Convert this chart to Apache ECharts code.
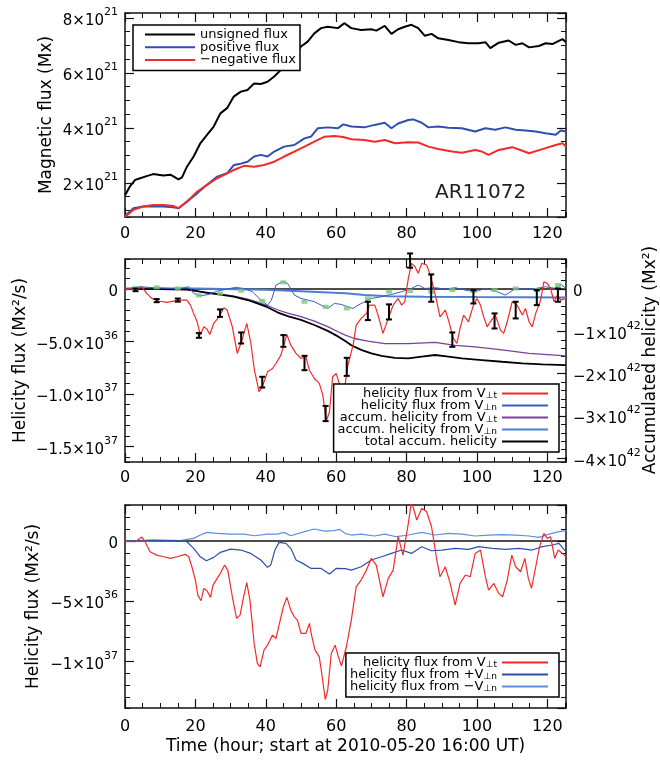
<!DOCTYPE html>
<html>
<head>
<meta charset="utf-8">
<script src="https://cdn.jsdelivr.net/npm/echarts@6/dist/echarts.min.js"></script>
<style>html,body{margin:0;padding:0;background:#fff;}#c{width:660px;height:760px;}</style>
</head>
<body>
<div id="c"></div>
<script>
// ---------- Panel 1: magnetic flux (units of 1e21 Mx) ----------
const unsignedT = [0,0.3,1.4,2.9,4.3,5.7,8,10.9,12.9,15.2,16.2,17.6,19.5,21.4,23.3,25.2,27.1,29,30.9,32.9,34.8,36.7,38.6,40.5,42.4,44.3,46.2,48.1,50,51.9,53.8,55.7,57.6,60.5,62.3,64.3,67.1,70,71.4,73.8,75.7,77.6,79.5,81.4,83.3,85.2,87.1,89,91.9,94.8,97.6,100.5,102.4,103.8,106.2,109,111,112.9,114.8,117.6,119.5,121.4,124.3,125.3];
const unsignedFlux = [1.55,1.6,1.87,2.11,2.17,2.23,2.32,2.27,2.3,2.13,2.2,2.59,2.96,3.44,3.75,4.05,4.53,4.72,5.14,5.32,5.38,5.62,5.6,5.68,5.87,6.11,6.35,6.6,6.96,7.14,7.44,7.63,7.68,7.63,7.81,7.63,7.56,7.59,7.54,7.71,7.42,7.59,7.68,7.75,7.63,7.35,7.42,7.26,7.2,7.12,7.08,7.08,7.12,6.9,7.1,7.18,7.02,7.08,6.93,6.98,7.08,7.05,7.23,7.12];
const positiveT = [0,0.3,2.4,5.2,8,10.9,13.7,15.2,17.6,20.5,23.3,26.2,29,30.9,32.9,34.8,36.7,38.6,40.5,42.4,45.2,48.1,51,52.9,54.8,57.6,60.5,62,64.3,68,70.9,73.8,75.7,77.6,80.5,81.9,84.3,86.2,89,91.9,95.7,99.5,102.4,105.2,108.1,111,113.8,116.7,119.5,122.4,123.8,125.3];
const positiveFlux = [0.8,0.84,1.08,1.14,1.15,1.14,1.11,1.08,1.32,1.62,1.93,2.23,2.35,2.65,2.7,2.77,2.96,3.02,2.96,3.14,3.32,3.38,3.62,3.69,3.99,4.02,3.99,4.13,4.05,4.02,4.11,4.19,3.99,4.16,4.29,4.31,4.19,4.02,4.05,4.01,3.99,3.87,3.99,3.93,4.02,3.93,3.91,3.87,3.81,3.75,3.91,3.87];
const negativeT = [0,0.3,2.4,5.2,8,10.9,13.7,15.2,17.6,20.5,23.3,26.2,29,30.9,33.8,36.7,39.5,42.4,45.2,48.1,51,53.8,56.7,59.5,62,64.3,68,70.9,73.8,76.7,80.5,83.3,86.2,89,92.9,95.7,99.5,101.4,103.3,106.2,110,112.9,114.8,118.6,122.4,124.3,125.3];
const negativeFlux = [0.76,0.77,1.02,1.14,1.2,1.2,1.16,1.08,1.32,1.68,1.93,2.17,2.35,2.47,2.62,2.59,2.65,2.77,2.96,3.14,3.32,3.5,3.68,3.71,3.67,3.59,3.56,3.5,3.56,3.44,3.48,3.47,3.32,3.23,3.14,3.1,3.2,3.14,3.02,3.2,3.3,3.17,3.08,3.23,3.38,3.44,3.32];

// ---------- Panel 2: helicity flux (1e36 Mx^2/s) and accumulated helicity (1e42 Mx^2) ----------
const p2VtT = [0,3.3,4.8,6.2,7.6,9.5,11.9,15.2,17.6,18.6,19.5,20.5,21.4,22.4,23.3,24.1,25.2,26.7,28.1,29,30.5,31.9,33.1,34.6,35.7,36.7,38.1,39,40.5,41.9,42.9,44.3,46,47.1,48.6,50,51.4,52.4,53.8,55.2,56.2,57.2,58.1,59,60,61.4,62.2,63.3,64.8,65.7,67.1,68.6,69.5,71,71.9,73.3,74.8,76.2,77.6,78.6,79.5,80.5,81.4,82.4,83.3,84.3,85.7,86.7,87.6,88.6,89.5,91,91.9,93.3,94.3,95.2,96.2,97.6,99,100,101,101.9,102.9,103.8,105.2,106.7,107.6,108.6,110,111.4,112.9,113.8,114.8,115.7,116.7,118.1,119,120,120.9,121.9,122.9,123.8,125.3];
const p2Vt = [0,0,0.22,-0.41,-0.89,-1.14,-1.27,-1.05,-1.05,-1.53,-2.32,-3.12,-4.39,-3.6,-3.82,-4.33,-3.28,-2.65,-1.78,-2.0,-3.6,-6.14,-5.03,-3.28,-5.03,-7.58,-9.8,-9.33,-7.9,-7.58,-7.1,-6.3,-4.33,-5.35,-6.14,-6.62,-6.46,-7.74,-8.53,-9.0,-10.1,-12.6,-11.7,-8.37,-8.05,-9.6,-9.9,-7.3,-5.35,-3.44,-2.8,-2.32,-1.53,-1.53,-2.48,-4.23,-2.8,-1.53,-0.89,-1.53,-1.2,1.02,2.45,2.13,1.5,2.45,2.3,1.34,0.22,-1.21,-2.65,-2.0,-2.96,-4.71,-5.19,-3.76,-2.48,-3.12,-1.53,-0.89,-1.53,-2.65,-3.6,-3.12,-2.48,-3.92,-4.23,-3.12,-1.21,-1.53,-2.48,-1.85,-3.12,-3.6,-2.32,-1.05,0.7,0.54,0.06,-1.21,-0.57,-1.05,-0.89];
const p2VnT = [0,4.3,8.1,12.9,15.7,18.1,19.5,21.4,23.8,26.2,29,31.4,33.8,36.2,38.6,40.5,41.6,42.9,44.8,46.2,48.1,50,51.9,53.8,55.7,57.6,59.5,61.4,63.3,64.8,66.2,68.1,70,72.9,75.7,78.6,81.4,83.3,85.2,88.1,91,93.8,96.7,99.5,102.4,105.2,108.1,111,113.8,116.7,119.5,122.4,123.8,125.3];
const p2Vn = [0,0.22,0.13,0.06,0.06,0.22,-0.41,-0.64,-0.51,-0.19,0,0.16,0.06,-0.25,-1.05,-1.53,-1.05,0.38,0.7,0.54,-0.57,-0.89,-1.05,-1.21,-1.53,-1.85,-1.37,-1.46,-1.69,-1.85,-1.53,-1.21,-0.89,-0.73,-0.51,-0.25,0.06,0.38,0.06,0.13,0,0.13,-0.1,-0.25,0.06,-0.19,-0.57,0.06,0,0.06,0.22,0.06,0.45,0.06];
const greenT = [3,9,15,21,27,33,39,45,51,57,63,69,75,81,87,93,99,105,111,117,123];
const greenV = [0.1,0.16,0.06,-0.6,-0.41,-0.16,-1.11,0.64,-1.21,-1.69,-1.85,-0.89,-0.25,-0.19,-0.25,-0.1,-0.19,-0.1,0.06,-0.1,0.38];
const errT = [3,9,15,21,27,33,39,45,51,57,63,69,75,81,87,93,99,105,111,117,123];
const errLow = [-0.2,-1.25,-1.2,-4.65,-2.65,-5.19,-9.39,-5.51,-7.74,-12.6,-8.28,-2.96,-2.9,2.04,-1.21,-5.51,-1.37,-3.76,-2.8,-1.53,-1.21];
const errHigh = [0.05,-0.95,-0.9,-4.2,-1.94,-4.14,-8.37,-4.39,-6.37,-11.15,-6.56,-1.21,-1.46,3.4,1.4,-4.14,-0.1,-2.32,-1.21,-0.1,0.06];
const accTotalT = [0,10,17.6,20.5,23.3,27.1,30.9,34.8,37.6,40.5,43.3,46.2,50,53.8,57.6,60.5,62.6,64.3,67.1,70,72.9,76.7,80.5,84.3,88.1,91.9,95.7,101.4,107.1,112.9,118.6,125.3];
const accTotal = [0,0,-0.01,-0.05,-0.09,-0.13,-0.18,-0.26,-0.34,-0.43,-0.55,-0.64,-0.73,-0.85,-0.99,-1.12,-1.23,-1.33,-1.44,-1.52,-1.58,-1.63,-1.64,-1.6,-1.56,-1.6,-1.64,-1.68,-1.72,-1.76,-1.78,-1.8];
const accVtT = [0,10,17.6,20.5,23.3,27.1,30.9,34.8,37.6,40.5,43.3,46.2,50,53.8,57.6,60.5,62.6,65.2,69,73.8,80.5,88.1,93.8,99.5,107.1,114.8,125.3];
const accVt = [0,-0.01,-0.02,-0.05,-0.08,-0.12,-0.17,-0.24,-0.31,-0.39,-0.49,-0.57,-0.65,-0.76,-0.89,-1.01,-1.09,-1.17,-1.23,-1.29,-1.29,-1.26,-1.33,-1.37,-1.44,-1.52,-1.58];
const accVnT = [0,20,40,50,57.6,62.6,68,75,85,100,125.3];
const accVn = [0.01,0.01,-0.02,-0.05,-0.08,-0.1,-0.14,-0.17,-0.18,-0.19,-0.2];

// ---------- Panel 3: helicity flux (1e36 Mx^2/s) ----------
const p3VtT = [0,2.9,3.3,4.8,5.7,7.1,9,11,12.9,14.8,17.1,18.1,19,20,20.7,21.6,22.4,23.3,24.3,25,26.2,27.1,28.3,29.2,30.5,31.7,32.7,33.6,34.6,35.5,36.7,37.6,38.4,39.5,40.5,41.9,42.9,44.1,45,46,47.1,48.1,49,50,51.4,52.4,53,54,55.2,55.9,56.9,57.6,58.6,59.7,60.5,61.5,62.9,64.3,65.7,67.1,68.6,70,71.4,73.3,74.8,76.2,77.6,79,80.5,81.4,82.9,84.3,85.7,87.1,88.6,89.5,91,92.4,93.8,95.2,96.7,98.1,99.5,101,102.4,103.3,104.8,106.2,107.3,108.6,109.9,111,112.4,113.6,114.6,115.5,116.7,117.8,119,120,120.9,122.1,123.1,124.3,125.3];
const p3Vt = [0,-0.06,-0.19,0.33,-0.06,-0.89,-1.17,-1.31,-1.44,-1.31,-1.11,-1.31,-2.14,-3.25,-4.5,-4.97,-3.94,-4.14,-4.69,-3.67,-3.11,-2.69,-2.0,-2.42,-4.64,-6.44,-6.17,-4.78,-3.47,-4.92,-8.53,-10.19,-10.47,-9.08,-8.67,-7.83,-8.11,-6.58,-5.47,-4.69,-5.75,-6.31,-6.58,-7.69,-7.69,-6.86,-7.83,-9.08,-9.64,-11.03,-13.19,-12.42,-9.36,-8.67,-9.5,-10.4,-8.8,-6.58,-3.8,-3.25,-2.42,-1.44,-2.0,-4.64,-3.11,-2.42,0.36,-1.17,1.47,3.3,1.75,2.72,2.44,1.19,-1.58,-2.97,-2.14,-3.53,-5.33,-3.53,-2.83,-2.97,-1.03,-0.75,-2.97,-4.08,-3.53,-4.36,-4.64,-3.25,-1.17,-2.14,-2.56,-1.44,-3.11,-3.94,-2.14,-0.47,0.64,0.22,0.36,-1.44,-0.75,-1.03,-1.31];
const p3PlusT = [0,8,15.7,17.6,19.5,21.4,23.1,25.2,27.1,30,32.9,35.7,38.6,40.5,41.4,42.6,43.8,45.7,47.1,48.6,50.5,52.9,55.7,58.1,60,62.6,64.3,67.1,70,72.9,75.7,78.6,81.4,84.3,87.1,90,93.8,97.6,100.5,104.3,108.1,111.9,115.7,118.6,121.4,123.3,125.3];
const p3Plus = [0,0.08,0.03,-0.06,-0.61,-1.31,-1.64,-1.36,-0.94,-0.67,-0.75,-1.03,-1.58,-2.19,-2.0,-0.75,-0.11,-0.19,-0.61,-1.58,-1.86,-2.28,-2.28,-2.75,-2.28,-2.3,-2.42,-2.14,-1.58,-1.31,-1.03,-0.75,-1.03,-0.47,-0.81,-0.75,-0.61,-0.69,-0.47,-0.61,-0.69,-0.61,-0.75,-0.47,-0.33,-0.19,-0.9];
const p3MinusT = [0,15.7,17.6,19.5,21.4,23.3,26.2,30,33.8,36.7,40.5,43.3,45.2,47.1,51,53.8,56.7,59.5,61,62.6,64.3,67.1,70.9,73.8,77.1,80.5,84.3,88.1,91.9,95.7,99.5,103.3,107.1,111,114.8,117.6,120.5,123.3,125.3];
const p3Minus = [0,0.03,0.14,0.22,0.5,0.72,0.64,0.58,0.58,0.44,0.58,0.58,0.72,0.44,0.78,1.0,0.83,0.86,0.97,0.62,0.5,0.58,0.42,0.58,0.36,0.5,0.72,0.5,0.64,0.58,0.42,0.5,0.53,0.5,0.42,0.31,0.58,0.78,0.86];

// ---------- tick label texts ----------
const xTickStep = 20;
const xMinorStep = 5;
const p1TickLabels = {2:'2×10|21', 4:'4×10|21', 6:'6×10|21', 8:'8×10|21'};
const p2LeftTickLabels = {0:'0', '-5':'−5.0×10|36', '-10':'−1.0×10|37', '-15':'−1.5×10|37'};
const p2RightTickLabels = {0:'0', '-1':'−1×10|42', '-2':'−2×10|42', '-3':'−3×10|42', '-4':'−4×10|42'};
const p3TickLabels = {0:'0', '-5':'−5×10|36', '-10':'−1×10|37'};

const FONT = 'DejaVu Sans';
const XMAX = 125.3;
const INK = '#111';

function pairs(t, v) { return t.map((x, i) => [x, v[i]]); }
function supFmt(map) {
  return function (v) {
    const key = String(Math.round(v * 1000) / 1000);
    const s = map[key];
    if (s == null) return '';
    const p = s.split('|');
    return p.length > 1 ? '{b|' + p[0] + '}{s|' + p[1] + '}' : '{b|' + p[0] + '}';
  };
}
const supRich = {
  b: {fontFamily: FONT, fontSize: 15, lineHeight: 22, verticalAlign: 'bottom', color: '#000'},
  s: {fontFamily: FONT, fontSize: 11, lineHeight: 11, verticalAlign: 'top', color: '#000'}
};
const frameLine = {show: true, onZero: false, lineStyle: {color: INK, width: 1.5}};
const noLine = {show: false, onZero: false};

function xAx(grid, top, labelMargin, extra) {
  return Object.assign({
    type: 'value', gridIndex: grid, position: top ? 'top' : 'bottom',
    min: 0, max: XMAX, interval: xTickStep,
    axisLine: frameLine,
    axisTick: {show: true, inside: true, length: 9, lineStyle: {color: INK, width: 1.2}},
    splitLine: {show: false},
    axisLabel: labelMargin != null
      ? {show: true, showMaxLabel: false, fontFamily: FONT, fontSize: 16, color: '#000', margin: labelMargin}
      : {show: false}
  }, extra || {});
}
function xMinor(grid, top) {
  return {type: 'value', gridIndex: grid, position: top ? 'top' : 'bottom', min: 0, max: XMAX, interval: xMinorStep,
    axisLine: noLine, axisTick: {show: true, inside: true, length: 5, lineStyle: {color: INK, width: 1}},
    splitLine: {show: false}, axisLabel: {show: false}};
}
function yAx(grid, right, min, max, step, labels, extra) {
  return Object.assign({
    type: 'value', gridIndex: grid, position: right ? 'right' : 'left',
    min: min, max: max, minInterval: step, maxInterval: step, splitNumber: 5,
    axisLine: frameLine,
    axisTick: {show: true, inside: true, length: 9, lineStyle: {color: INK, width: 1.2}},
    splitLine: {show: false},
    axisLabel: labels ? {show: true, showMinLabel: false, showMaxLabel: false, margin: 7, formatter: supFmt(labels), rich: supRich} : {show: false},
    nameLocation: 'middle',
    nameMoveOverlap: false,
    nameTextStyle: {fontFamily: FONT, fontSize: 17, color: '#000'}
  }, extra || {});
}
function yMinor(grid, right, min, max, step) {
  return {type: 'value', gridIndex: grid, position: right ? 'right' : 'left', min: min, max: max,
    minInterval: step, maxInterval: step, splitNumber: 20,
    axisLine: noLine, axisTick: {show: true, inside: true, length: 5, lineStyle: {color: INK, width: 1}},
    splitLine: {show: false}, axisLabel: {show: false}};
}

const legendNames = {
  'p2 vt': '{b|helicity flux from V}{sub|⊥t}',
  'p2 vn': '{b|helicity flux from V}{sub|⊥n}',
  'p2 acc vt': '{b|accum. helicity from V}{sub|⊥t}',
  'p2 acc vn': '{b|accum. helicity from V}{sub|⊥n}',
  'p2 total': '{b|total accum. helicity}',
  'p3 vt': '{b|helicity flux from V}{sub|⊥t}',
  'p3 plus': '{b|helicity flux from +V}{sub|⊥n}',
  'p3 minus': '{b|helicity flux from −V}{sub|⊥n}'
};
const legendRich = {
  b: {fontFamily: FONT, fontSize: 13, lineHeight: 13, verticalAlign: 'top', color: '#000'},
  sub: {fontFamily: FONT, fontSize: 9, lineHeight: 7, verticalAlign: 'bottom', color: '#000'}
};
function lineS(name, xi, yi, data, color, width, z) {
  return {name: name, type: 'line', xAxisIndex: xi, yAxisIndex: yi, data: data, symbol: 'none',
    lineStyle: {color: color, width: width}, itemStyle: {color: color}, z: z || 2, silent: true};
}
const legendBase = {orient: 'vertical', icon: 'rect', itemHeight: 2, selectedMode: false,
  backgroundColor: '#fff', borderColor: '#000', borderWidth: 1.5, borderRadius: 0};

const RED = '#f42a2a';
const option = {
  animation: false,
  backgroundColor: '#fff',
  grid: [
    {left: 125, top: 13, width: 441, height: 204},
    {left: 125, top: 259, width: 441, height: 203},
    {left: 125, top: 505, width: 441, height: 203}
  ],
  xAxis: [
    xAx(0, false, 9),
    xAx(0, true, null),
    xAx(1, false, 8),
    xAx(1, true, null),
    xAx(2, false, 11, {name: 'Time (hour; start at 2010-05-20 16:00 UT)', nameLocation: 'middle', nameGap: 30,
      nameMoveOverlap: false, nameTextStyle: {fontFamily: FONT, fontSize: 17, color: '#000'}}),
    xAx(2, true, null),
    xMinor(0, false), xMinor(0, true), xMinor(1, false), xMinor(1, true), xMinor(2, false), xMinor(2, true)
  ],
  yAxis: [
    yAx(0, false, 0.76, 8.18, 2, p1TickLabels, {name: 'Magnetic flux (Mx)', nameGap: 70}),
    yAx(0, true, 0.76, 8.18, 2, null),
    yAx(1, false, -16.5, 2.87, 5, p2LeftTickLabels, {name: 'Helicity flux (Mx²/s)', nameGap: 96}),
    yAx(1, true, -4.09, 0.71, 1, p2RightTickLabels),
    yAx(2, false, -13.9, 3.0, 5, p3TickLabels, {name: 'Helicity flux (Mx²/s)', nameGap: 83}),
    yAx(2, true, -13.9, 3.0, 5, null),
    yMinor(0, false, 0.76, 8.18, 0.5), yMinor(0, true, 0.76, 8.18, 0.5),
    yMinor(1, false, -16.5, 2.87, 1), yMinor(1, true, -4.09, 0.71, 0.2),
    yMinor(2, false, -13.9, 3.0, 1), yMinor(2, true, -13.9, 3.0, 1)
  ],
  legend: [
    Object.assign({}, legendBase, {data: ['unsigned flux', 'positive flux', '−negative flux'], left: 133, top: 25,
      padding: [3, 4, 4, 12], itemWidth: 50, itemGap: -0.2,
      textStyle: {fontFamily: FONT, fontSize: 13, lineHeight: 13, color: '#000'}}),
    Object.assign({}, legendBase, {data: ['p2 vt', 'p2 vn', 'p2 acc vt', 'p2 acc vn', 'p2 total'], align: 'right',
      right: 101, top: 384, padding: [3, 11, 4, 4], itemWidth: 46, itemGap: -1,
      formatter: n => legendNames[n], textStyle: {fontFamily: FONT, fontSize: 13, color: '#000', rich: legendRich}}),
    Object.assign({}, legendBase, {data: ['p3 vt', 'p3 plus', 'p3 minus'], align: 'right',
      right: 101, top: 653, padding: [3, 11, 4, 4], itemWidth: 46, itemGap: -1,
      formatter: n => legendNames[n], textStyle: {fontFamily: FONT, fontSize: 13, color: '#000', rich: legendRich}})
  ],
  graphic: [
    {type: 'text', left: 435, top: 183, z: 10, style: {text: 'AR11072', font: '20px "DejaVu Sans"', fill: '#222'}},
    {type: 'text', x: 651, y: 360, rotation: Math.PI / 2, z: 10,
      style: {text: 'Accumulated helicity (Mx²)', font: '17px "DejaVu Sans"', fill: '#000', align: 'center', verticalAlign: 'middle'}}
  ],
  series: [
    lineS('unsigned flux', 0, 0, pairs(unsignedT, unsignedFlux), '#000', 2),
    lineS('positive flux', 0, 0, pairs(positiveT, positiveFlux), '#2f4fb0', 2),
    lineS('−negative flux', 0, 0, pairs(negativeT, negativeFlux), RED, 2),

    lineS('zero2', 2, 2, [[0, 0], [XMAX, 0]], INK, 1.5, 1),
    lineS('p2 acc vt', 2, 3, pairs(accVtT, accVt), '#7b3fa0', 1.3),
    lineS('p2 acc vn', 2, 3, pairs(accVnT, accVn), '#4a7fd4', 2),
    lineS('p2 total', 2, 3, pairs(accTotalT, accTotal), '#000', 1.8),
    lineS('p2 vn', 2, 2, pairs(p2VnT, p2Vn), '#3b5cc4', 1),
    {name: 'green', type: 'scatter', xAxisIndex: 2, yAxisIndex: 2, data: pairs(greenT, greenV),
      symbol: 'rect', symbolSize: [6, 4], itemStyle: {color: '#7cc47c'}, z: 3, silent: true},
    lineS('p2 vt', 2, 2, pairs(p2VtT, p2Vt), RED, 1.2, 3),
    {name: 'errors', type: 'custom', xAxisIndex: 2, yAxisIndex: 2, z: 4, silent: true,
      data: errT.map((t, i) => [t, errLow[i], errHigh[i]]),
      encode: {x: 0, y: [1, 2]},
      renderItem: function (params, api) {
        const lo = api.coord([api.value(0), api.value(1)]);
        const hi = api.coord([api.value(0), api.value(2)]);
        const w = 3, st = {stroke: '#000', lineWidth: 2};
        return {type: 'group', children: [
          {type: 'line', shape: {x1: lo[0], y1: lo[1], x2: hi[0], y2: hi[1]}, style: st},
          {type: 'line', shape: {x1: lo[0] - w, y1: lo[1], x2: lo[0] + w, y2: lo[1]}, style: st},
          {type: 'line', shape: {x1: hi[0] - w, y1: hi[1], x2: hi[0] + w, y2: hi[1]}, style: st}
        ]};
      }},

    lineS('zero3', 4, 4, [[0, 0], [XMAX, 0]], INK, 1.5, 1),
    lineS('p3 minus', 4, 4, pairs(p3MinusT, p3Minus), '#5b8fe0', 1.2),
    lineS('p3 plus', 4, 4, pairs(p3PlusT, p3Plus), '#2d4fa8', 1.2),
    lineS('p3 vt', 4, 4, pairs(p3VtT, p3Vt), RED, 1.2, 3)
  ]
};
const chart = echarts.init(document.getElementById('c'), null, {renderer: 'canvas'});
chart.setOption(option);
</script>
</body>
</html>
